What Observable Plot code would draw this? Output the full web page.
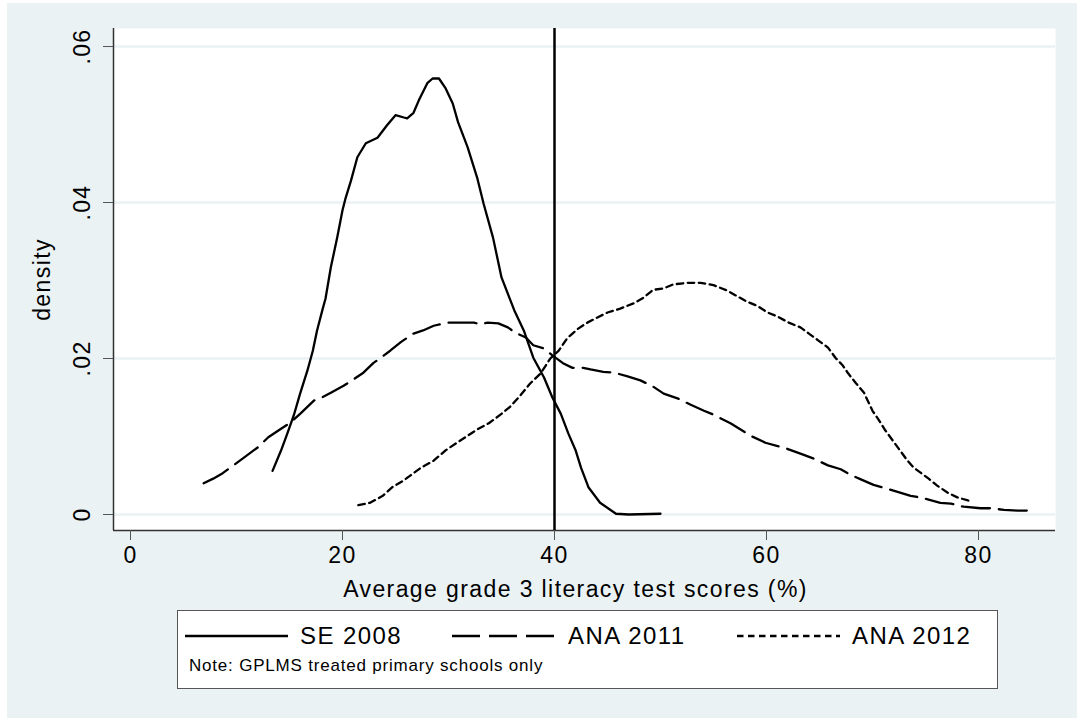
<!DOCTYPE html>
<html>
<head>
<meta charset="utf-8">
<script src="https://cdn.jsdelivr.net/npm/d3@7"></script>
<script src="https://cdn.jsdelivr.net/npm/@observablehq/plot@0.6"></script>
<style>
  html, body { margin: 0; padding: 0; background: #ffffff; }
  #page { position: relative; width: 1077px; height: 718px; overflow: hidden; font-family: "Liberation Sans", Arial, Helvetica, sans-serif; }
  #bg { position: absolute; left: 7px; top: 3px; width: 1070px; height: 715px; background: #EAF2F3; }
  #chart { position: absolute; left: 0; top: 0; }
  #chart text { letter-spacing: 1.4px; }
  #legend { position: absolute; left: 177px; top: 610px; width: 819px; height: 77px; background: #fff; border: 1px solid #555; }
  .sw { position: absolute; top: 23px; }
  .lt { position: absolute; top: 11px; font-size: 24px; letter-spacing: 1.4px; color: #000; white-space: nowrap; }
  #note { position: absolute; left: 11px; top: 45px; font-size: 17px; letter-spacing: 0.8px; color: #000; white-space: nowrap; }
</style>
</head>
<body>
<div id="page">
  <div id="bg"></div>
  <div id="chart"></div>
  <div id="legend"></div>
</div>
<script>
// ---- data ----
const xTicks = [0, 20, 40, 60, 80];
const yTicks = [0, 0.02, 0.04, 0.06];
const refLine = [40];

const seriesNames = ["SE 2008", "ANA 2011", "ANA 2012"];
const noteText = "Note: GPLMS treated primary schools only";
const xLabel = "Average grade 3 literacy test scores (%)";
const yLabel = "density";

const se2008X = [13.4, 14.2, 14.8, 15.4, 16.0, 16.7, 17.2, 17.6, 18.1, 18.4, 18.9, 19.5, 20.0, 20.3, 20.8, 21.4, 22.2, 23.3, 24.2, 25.0, 25.8, 26.1, 26.7, 27.2, 28.0, 28.5, 29.1, 29.7, 30.4, 30.9, 31.8, 32.7, 33.3, 34.2, 35.0, 36.2, 37.1, 38.0, 39.0, 39.8, 40.6, 41.3, 42.0, 42.5, 43.2, 44.3, 45.8, 47.0, 50.0];
const se2008Y = [0.0056, 0.0082, 0.0104, 0.0127, 0.0155, 0.0185, 0.0210, 0.0236, 0.0262, 0.0277, 0.0317, 0.0355, 0.0390, 0.0406, 0.0428, 0.0458, 0.0476, 0.0483, 0.0499, 0.0512, 0.0509, 0.0508, 0.0515, 0.0531, 0.0553, 0.0559, 0.0559, 0.0547, 0.0527, 0.0503, 0.0471, 0.0432, 0.0399, 0.0355, 0.0304, 0.0262, 0.0236, 0.0201, 0.0176, 0.0150, 0.0129, 0.0104, 0.0082, 0.0060, 0.0035, 0.0015, 0.0001, 0.0000, 0.0001];

const ana2011X = [6.9, 7.8, 8.7, 9.7, 10.7, 12.0, 13.0, 14.2, 15.1, 16.0, 17.3, 17.9, 18.9, 20.1, 21.0, 21.9, 22.9, 23.6, 24.5, 25.5, 26.7, 27.6, 28.6, 29.9, 31.1, 32.4, 33.0, 33.7, 34.7, 35.6, 36.3, 37.3, 38.0, 39.0, 39.8, 40.8, 41.7, 42.7, 43.4, 44.6, 45.6, 46.9, 48.1, 49.3, 50.3, 51.6, 52.8, 54.1, 55.0, 56.6, 58.5, 59.9, 61.8, 63.2, 64.4, 65.8, 67.0, 67.9, 68.9, 70.1, 71.4, 72.6, 73.6, 74.8, 76.4, 77.4, 78.6, 80.2, 81.1, 82.4, 83.7, 84.9];
const ana2011Y = [0.0040, 0.0046, 0.0053, 0.0063, 0.0073, 0.0086, 0.0099, 0.0110, 0.0118, 0.0129, 0.0146, 0.0149, 0.0156, 0.0165, 0.0173, 0.0181, 0.0194, 0.0201, 0.0210, 0.0221, 0.0232, 0.0236, 0.0242, 0.0246, 0.0246, 0.0246, 0.0244, 0.0246, 0.0245, 0.0240, 0.0233, 0.0227, 0.0217, 0.0213, 0.0204, 0.0194, 0.0188, 0.0188, 0.0186, 0.0183, 0.0182, 0.0177, 0.0172, 0.0164, 0.0155, 0.0149, 0.0141, 0.0133, 0.0128, 0.0117, 0.0101, 0.0092, 0.0085, 0.0078, 0.0072, 0.0063, 0.0058, 0.0051, 0.0045, 0.0038, 0.0033, 0.0028, 0.0024, 0.0021, 0.0015, 0.0014, 0.0010, 0.0008, 0.0008, 0.0006, 0.0005, 0.0005];

const ana2012X = [21.5, 22.6, 23.8, 24.7, 25.8, 27.4, 28.6, 29.7, 30.8, 31.8, 32.7, 33.8, 34.9, 35.8, 36.8, 37.7, 38.7, 39.6, 40.4, 41.2, 42.2, 43.1, 44.1, 45.0, 46.2, 47.5, 48.4, 49.3, 50.3, 51.2, 52.5, 53.8, 55.0, 56.3, 58.0, 59.2, 60.1, 61.0, 62.1, 63.2, 64.0, 64.9, 65.8, 66.5, 67.2, 67.7, 68.4, 69.2, 70.0, 70.6, 71.2, 71.9, 72.6, 73.3, 73.9, 74.5, 75.3, 76.1, 77.1, 78.0, 79.0, 79.4];
const ana2012Y = [0.0012, 0.0015, 0.0024, 0.0035, 0.0044, 0.0060, 0.0069, 0.0082, 0.0092, 0.0101, 0.0109, 0.0117, 0.0128, 0.0138, 0.0153, 0.0168, 0.0181, 0.0200, 0.0210, 0.0226, 0.0238, 0.0246, 0.0253, 0.0259, 0.0264, 0.0271, 0.0278, 0.0288, 0.0290, 0.0295, 0.0297, 0.0297, 0.0294, 0.0287, 0.0274, 0.0267, 0.0259, 0.0254, 0.0246, 0.0240, 0.0232, 0.0223, 0.0214, 0.0201, 0.0191, 0.0181, 0.0169, 0.0156, 0.0133, 0.0121, 0.0108, 0.0095, 0.0082, 0.0069, 0.0060, 0.0054, 0.0046, 0.0037, 0.0028, 0.0022, 0.0018, 0.0017];

// ---- build ----
const FONT = '"Liberation Sans", Arial, Helvetica, sans-serif';
const toRows = (xs, ys) => xs.map((x, i) => ({x, y: ys[i]}));
const se2008 = toRows(se2008X, se2008Y);
const ana2011 = toRows(ana2011X, ana2011Y);
const ana2012 = toRows(ana2012X, ana2012Y);

const xDomain = [-1.604, 87.264];
const yDomain = [-0.00205, 0.06231];
const fmtY = d => d === 0 ? "0" : d3.format(".2f")(d).replace(/^0/, "");

const dashLong = "28,9";
const dashShort = "6.5,4.5";

const chart = Plot.plot({
  width: 1077,
  height: 610,
  marginLeft: 113,
  marginRight: 22,
  marginTop: 28,
  marginBottom: 80,
  style: {background: "transparent", fontFamily: FONT, color: "#000", overflow: "visible"},
  x: {domain: xDomain, labelArrow: "none"},
  y: {domain: yDomain, labelArrow: "none"},
  marks: [
    Plot.frame({fill: "#ffffff", stroke: null}),
    Plot.gridY(yTicks, {stroke: "#EAF2F3", strokeOpacity: 1, strokeWidth: 2.5}),
    Plot.ruleX([xDomain[0]], {stroke: "#333", strokeWidth: 1.5}),
    Plot.ruleY([yDomain[0]], {stroke: "#333", strokeWidth: 1.5}),
    Plot.axisX({ticks: xTicks, tickSize: 10, tickPadding: 6, fontSize: 23, stroke: "#555", label: null}),
    Plot.text([xLabel], {frameAnchor: "bottom", dy: 66, dx: -9, fontSize: 23, fill: "#000"}),
    Plot.axisY({ticks: yTicks, tickFormat: fmtY, tickSize: 10, tickPadding: 14, fontSize: 23, tickRotate: -90, stroke: "#555",
      label: yLabel, labelAnchor: "center", labelOffset: 80, labelArrow: "none"}),
    Plot.line(se2008, {x: "x", y: "y", stroke: "#000", strokeWidth: 2.3}),
    Plot.line(ana2011, {x: "x", y: "y", stroke: "#000", strokeWidth: 2.3, strokeDasharray: dashLong}),
    Plot.line(ana2012, {x: "x", y: "y", stroke: "#000", strokeWidth: 2.3, strokeDasharray: dashShort}),
    Plot.ruleX(refLine, {stroke: "#000", strokeWidth: 2.5})
  ]
});
document.getElementById("chart").appendChild(chart);

// ---- legend ----
const legend = document.getElementById("legend");
const entries = [
  {name: seriesNames[0], dash: null, sx: 7, tx: 122},
  {name: seriesNames[1], dash: dashLong, sx: 274, tx: 390},
  {name: seriesNames[2], dash: dashShort, sx: 559, tx: 674}
];
entries.forEach(e => {
  const svg = d3.create("svg").attr("class", "sw").attr("width", 104).attr("height", 4)
    .style("left", e.sx + "px");
  svg.append("line").attr("x1", 0).attr("x2", 103).attr("y1", 2).attr("y2", 2)
    .attr("stroke", "#000").attr("stroke-width", 2.3)
    .attr("stroke-dasharray", e.dash);
  legend.appendChild(svg.node());
  const t = document.createElement("div");
  t.className = "lt"; t.textContent = e.name; t.style.left = e.tx + "px";
  legend.appendChild(t);
});
const note = document.createElement("div");
note.id = "note"; note.textContent = noteText;
legend.appendChild(note);
</script>
</body>
</html>
